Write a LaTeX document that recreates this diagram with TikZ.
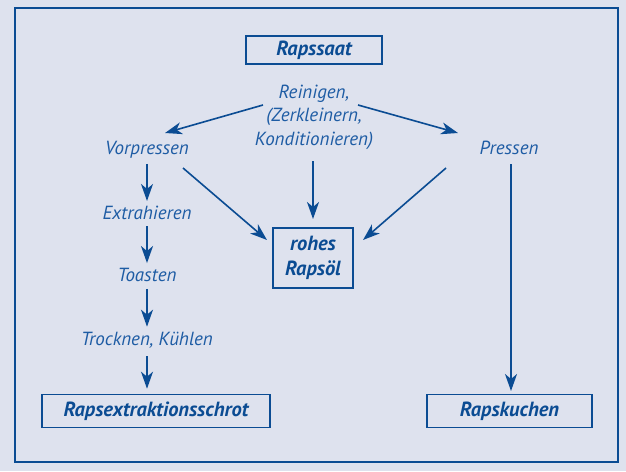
\documentclass[tikz,border=0pt]{standalone}
\usepackage{fontspec}
\setmainfont{PT Sans}
\usetikzlibrary{arrows.meta}
\definecolor{bg}{HTML}{DEE2EE}
\definecolor{ln}{HTML}{0B4C93}
\definecolor{tx}{HTML}{1E5CA4}
\tikzset{
  lbl/.style={text=tx,font=\fontsize{19}{23.5}\selectfont\itshape,align=center,inner sep=0pt},
  boxn/.style={draw=ln,line width=1.6pt,text=ln,font=\fontsize{20.5}{25.5}\selectfont\bfseries\itshape,align=center,inner sep=0pt},
  arr/.style={draw=ln,line width=1.6pt,-{Stealth[length=17pt,width=12pt,inset=5pt]}}
}
\begin{document}
\begin{tikzpicture}[x=1pt,y=-1pt]
\useasboundingbox (0,0) rectangle (626,471);
\fill[bg] (0,0) rectangle (626,471);
\draw[ln,line width=1.4pt] (15,8) rectangle (618,462);
% boxes
\node[boxn,minimum width=136pt,minimum height=28pt] (saat) at (314,50) {Rapssaat};
\node[boxn,minimum width=80pt,minimum height=60pt] (oel) at (313,258) {rohes\\Raps\"ol};
\node[boxn,minimum width=228pt,minimum height=33pt] (schrot) at (156,411) {Rapsextraktionsschrot};
\node[boxn,minimum width=165pt,minimum height=33pt] (kuchen) at (509.5,411) {Rapskuchen};
% labels
\node[lbl] (rein) at (314,117) {Reinigen,\\(Zerkleinern,\\Konditionieren)};
\node[lbl] (vor) at (147,150) {Vorpressen};
\node[lbl] (pres) at (509,148) {Pressen};
\node[lbl] (ext) at (147,213) {Extrahieren};
\node[lbl] (toa) at (147,275) {Toasten};
\node[lbl] (tro) at (147,340) {Trocknen, K\"uhlen};
% helper coordinates
\coordinate (r1) at (263,105);
\coordinate (r2) at (358,105);
\coordinate (r3) at (313,161);
\coordinate (v1) at (165,133);
\coordinate (p1) at (458,133);
\coordinate (o1) at (313,219);
\coordinate (v2) at (183,168);
\coordinate (o2) at (267,240);
\coordinate (p2) at (446,168);
\coordinate (o3) at (363,240);
\coordinate (p3) at (511,164);
\coordinate (k1) at (511,391);
% arrows
\draw[arr] (r1) -- (v1);
\draw[arr] (r2) -- (p1);
\draw[arr] (r3) -- (o1);
\draw[arr] (v2) -- (o2);
\draw[arr] (p2) -- (o3);
\draw[arr] (p3) -- (k1);
\draw[arr] ([yshift=-5pt]vor.south) -- ([yshift=5pt]ext.north);
\draw[arr] ([yshift=-6pt]ext.south) -- ([yshift=5pt]toa.north);
\draw[arr] ([yshift=-7pt]toa.south) -- ([yshift=5pt]tro.north);
\draw[arr] ([yshift=-8pt]tro.south) -- ([yshift=5pt]tro.south |- schrot.north);
\end{tikzpicture}
\end{document}
